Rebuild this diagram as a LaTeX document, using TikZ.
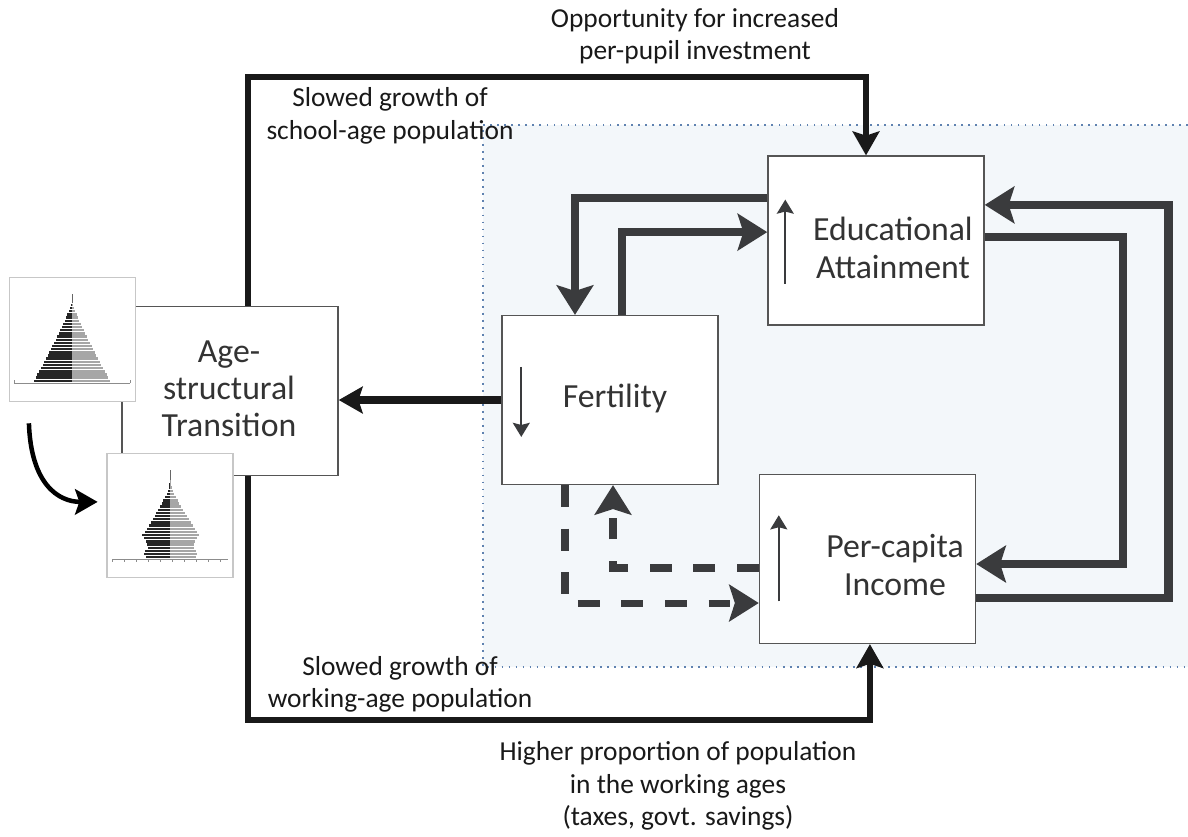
\documentclass[tikz,border=0pt]{standalone}
\usepackage{fontspec}
\setmainfont{Carlito}
\usetikzlibrary{arrows.meta}
\definecolor{loopgray}{HTML}{3A3B3D}
\definecolor{panelblue}{HTML}{F3F7FA}
\definecolor{dotblue}{HTML}{5F82B0}
\definecolor{boxedge}{HTML}{555555}

\begin{document}
\begin{tikzpicture}[x=0.025cm, y=-0.025cm, >=latex]
      \tikzset{
  stagebox/.style={
    rectangle,
    draw=boxedge,
    line width=1pt,
    fill=white,
    minimum width=5.4cm,
    minimum height=4.22cm
  },
  pyrframe/.style={
    rectangle,
    draw=black!22,
    line width=0.8pt,
    fill=white,
    minimum width=3.15cm,
    minimum height=3.12cm
  },
  boxtext/.style={
    align=center,
    text=black!80,
    font=\fontsize{24}{26.5}\selectfont
  },
  looptext/.style={
    align=center,
    text=black!90,
    font=\fontsize{19.5}{23}\selectfont
  },
  outer arrow/.style={
    draw=black!90,
    line width=4.2pt,
    -{Stealth[length=17pt,width=19pt,inset=3pt]}
  },
  loop arrow/.style={
    draw=loopgray,
    line width=6pt,
    -{Stealth[length=21pt,width=26pt,inset=4pt]}
  },
  dash arrow/.style={
    loop arrow,
    line width=5pt,
    dash pattern=on 15.5pt off 15.5pt
  },
  trend arrow/.style={
    draw=loopgray,
    line width=1.6pt,
    -{Stealth[length=10pt,width=12pt,inset=1.5pt]}
  }
}

% shaded panel
\useasboundingbox (0,0) rectangle (1188,836);
\fill[panelblue] (483,125) rectangle (1188,667);
\draw[dotblue, line width=1.1pt, dash pattern=on 1.2pt off 3.8pt]
  (1188,125) -- (483,125) -- (483,667) -- (1188,667);

% boxes
\node[stagebox] (age) at (230,391) {};
\node[stagebox] (fert) at (610,400) {};
\node[stagebox] (edu) at (876,240.5) {};
\node[stagebox] (inc) at (867.5,559) {};

% population pyramids
\node[pyrframe] (pyrold) at (72.5,339.5) {};
\node[pyrframe] (pyrnew) at (170,515.5) {};

\foreach \i in {0,...,24} {
  \pgfmathsetmacro\w{38*(1-\i/25)^1.15}
  \fill[black!85] (72,382-\i*3.16) rectangle (72-\w,379.6-\i*3.16);
  \fill[black!35] (72,382-\i*3.16) rectangle (72+\w,379.6-\i*3.16);
}
\draw[black!60, line width=0.5pt] (72,303) -- (72,294);
\draw[black!45, line width=0.5pt] (14,383) -- (130,383);
\foreach \t in {14,130}
  \draw[black!45, line width=0.5pt] (\t,383) -- (\t,380);

\foreach \l/\r [count=\i] in {0.5/0.5,1/1,1.5/2,2/3,3/4,5/6,7/8,8/9,10/11,12/13,14/15,15/17,17/19,19/21,21/23,23/25,25/27,28/29,26/27,24/25,23/24,22/24,25/26,26/27,24/26} {
  \fill[black!85] (170,477+\i*3.16) rectangle (170-\l,479.4+\i*3.16);
  \fill[black!35] (170,477+\i*3.16) rectangle (170+\r,479.4+\i*3.16);
}
\draw[black!60, line width=0.5pt] (170,480) -- (170,470);
\draw[black!45, line width=0.5pt] (112,559) -- (228,559);
\foreach \t in {112,124,...,228}
  \draw[black!45, line width=0.5pt] (\t,559) -- (\t,562);

\draw[line width=3.2pt, -{Stealth[length=16pt,width=18pt,inset=3pt]}]
  ([shift={(0.5cm,-0.52cm)}]pyrold.south west)
  .. controls +(0.05cm,-1.5cm) and +(-1cm,0cm) ..
  ([shift={(-0.22cm,0.34cm)}]pyrnew.west);

% outer loop through the age structure
\draw[outer arrow] ([xshift=0.45cm]age.north) -- ++(0,5.73cm)
  -| ([xshift=-0.25cm]edu.north);
\draw[outer arrow] ([xshift=0.45cm]age.south) -- ++(0,-6.1cm)
  -| ([xshift=0.06cm]inc.south);
\draw[outer arrow, line width=5pt] (fert.west) -- (fert.west -| age.east);

% inner feedback loops
\draw[loop arrow] ([yshift=1.06cm]edu.west) -| ([xshift=-0.875cm]fert.north);
\draw[loop arrow] ([xshift=0.3cm]fert.north) |- ([yshift=0.21cm]edu.west);
\draw[loop arrow] ([yshift=0.09cm]edu.east) -- ++(3.45cm,0)
  |- ([yshift=-0.125cm]inc.east);
\draw[loop arrow] ([yshift=-0.975cm]inc.east) -- ++(4.8cm,0)
  |- ([yshift=0.89cm]edu.east);
\draw[dash arrow] ([xshift=-1.125cm]fert.south) |- ([yshift=-1.1cm]inc.west);
\draw[dash arrow] ([yshift=-0.225cm]inc.west) -| ([xshift=0.075cm]fert.south);

% up / down markers
\draw[trend arrow] ([shift={(0.45cm,1.05cm)}]edu.south west) -- ++(0,2.1cm);
\draw[trend arrow] ([shift={(0.5cm,-1.3cm)}]fert.north west) -- ++(0,-1.75cm);
\draw[trend arrow] ([shift={(0.5cm,1.07cm)}]inc.south west) -- ++(0,2.15cm);

% texts
\node[boxtext] (agetext) at (229,389) {Age-\\structural\\Transition};
\node[boxtext] (ferttext) at (615,398) {Fertility};
\node[boxtext] (edutext) at (893,248) {Educational\\Attainment};
\node[boxtext] (inctext) at (895,565) {Per-capita\\Income};

\node[looptext] (opportunity) at (695,36) {Opportunity for increased\\per-pupil investment};
\node[looptext] (school) at (390,116) {Slowed growth of\\school-age population};
\node[looptext] (working) at (400,684) {Slowed growth of\\working-age population};
\node[looptext] (proportion) at (678,786) {Higher proportion of population\\in the working ages\\(taxes, govt. savings)};
      \end{tikzpicture}
\end{document}
